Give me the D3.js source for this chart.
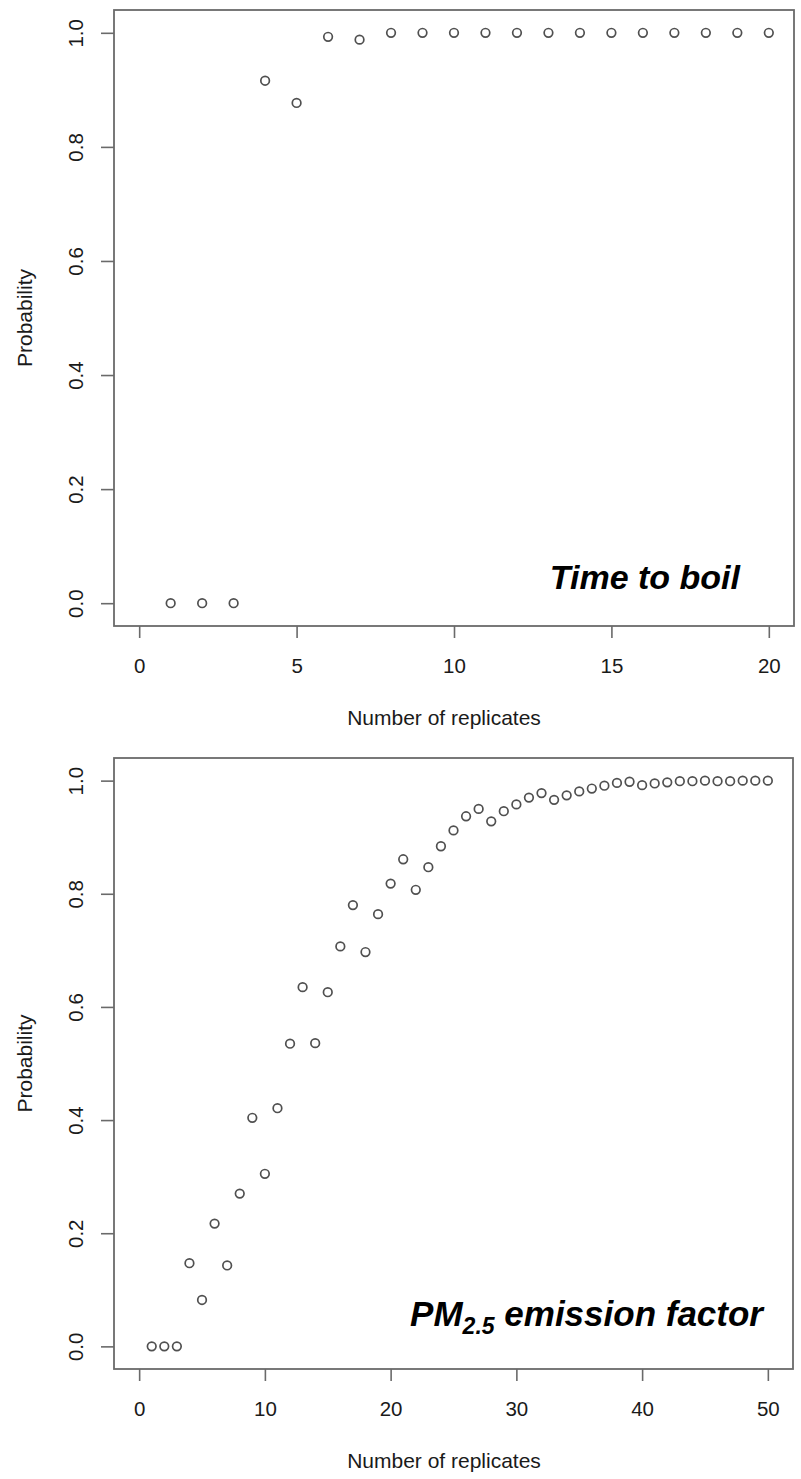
<!DOCTYPE html>
<html>
<head>
<meta charset="utf-8">
<script src="https://cdn.jsdelivr.net/npm/d3@7"></script>
<style>
  html, body { margin: 0; padding: 0; background: #fff; }
  svg { display: block; font-family: "Liberation Sans", Arial, sans-serif; }
</style>
</head>
<body>
<svg id="svg" width="801" height="1479"></svg>
<script>
// probability of reaching target precision vs number of replicates
const boilProb = [0, 0, 0, 0.916, 0.877, 0.993, 0.988, 1, 1, 1, 1, 1, 1, 1, 1, 1, 1, 1, 1, 1];
const pmProb = [0, 0, 0, 0.147, 0.082, 0.217, 0.143, 0.270, 0.404, 0.305,
  0.421, 0.535, 0.635, 0.536, 0.626, 0.707, 0.780, 0.697, 0.764, 0.818,
  0.861, 0.807, 0.847, 0.884, 0.912, 0.937, 0.950, 0.928, 0.946, 0.958,
  0.970, 0.978, 0.966, 0.974, 0.981, 0.986, 0.991, 0.996, 0.998, 0.992,
  0.995, 0.997, 0.999, 0.999, 1.0, 0.999, 0.999, 1.0, 1.0, 1.0];
const boilTicks = [0, 5, 10, 15, 20];
const pmTicks = [0, 10, 20, 30, 40, 50];
const probTicks = [0, 0.2, 0.4, 0.6, 0.8, 1.0];

const svg = d3.select('#svg');
const AX = '#6a6a6a', PT = '#505050';

function panel(o) {
  const { box, vals, xDom, xTicks } = o;
  const x = d3.scaleLinear().domain(xDom).range([box.x0, box.x1]);
  const y = d3.scaleLinear().domain([-0.04, 1.04]).range([box.y1, box.y0]);
  const g = svg.append('g');

  const gx = g.append('g').attr('transform', `translate(0,${box.y1})`)
    .call(d3.axisBottom(x).tickValues(xTicks).tickSize(12).tickFormat(d3.format('d')));
  gx.select('.domain').remove();
  gx.selectAll('line').attr('stroke', AX).attr('stroke-width', 1.6);
  gx.selectAll('text').attr('y', 47).attr('dy', 0).attr('fill', '#1a1a1a').attr('font-size', 20.5).attr('font-family', null);

  const gy = g.append('g').attr('transform', `translate(${box.x0},0)`)
    .call(d3.axisLeft(y).tickValues(probTicks).tickSize(13).tickFormat(d3.format('.1f')));
  gy.select('.domain').remove();
  gy.selectAll('line').attr('stroke', AX).attr('stroke-width', 1.6);
  gy.selectAll('text').attr('transform', 'rotate(-90)').attr('x', 0).attr('y', -31).attr('dy', 0)
    .attr('text-anchor', 'middle').attr('fill', '#1a1a1a').attr('font-size', 20.5).attr('font-family', null);

  g.append('rect').attr('x', box.x0).attr('y', box.y0).attr('width', box.x1 - box.x0).attr('height', box.y1 - box.y0)
    .attr('fill', 'none').attr('stroke', AX).attr('stroke-width', 1.8);

  g.append('g').selectAll('circle').data(vals).join('circle')
    .attr('cx', (d, i) => x(i + 1)).attr('cy', d => y(d)).attr('r', 4.3)
    .attr('fill', 'none').attr('stroke', PT).attr('stroke-width', 1.7);

  g.append('text').attr('x', 444).attr('y', box.y1 + 99).attr('text-anchor', 'middle')
    .attr('font-size', 21).attr('fill', '#1a1a1a').text('Number of replicates');
  g.append('text').attr('transform', `translate(32,${(box.y0 + box.y1) / 2}) rotate(-90)`).attr('text-anchor', 'middle')
    .attr('font-size', 21).attr('fill', '#1a1a1a').text('Probability');

  const t = g.append('text').attr('x', o.labelX).attr('y', o.labelY).attr('text-anchor', 'end')
    .attr('font-size', o.labelSize).attr('font-weight', 'bold').attr('font-style', 'italic').attr('fill', '#000');
  o.label(t);
}

panel({
  box: { x0: 114, x1: 794, y0: 10, y1: 626 }, vals: boilProb, xDom: [-0.8, 20.8], xTicks: boilTicks,
  labelX: 740, labelY: 589, labelSize: 34, label: t => t.text('Time to boil')
});
panel({
  box: { x0: 114, x1: 793, y0: 758, y1: 1369 }, vals: pmProb, xDom: [-2, 52], xTicks: pmTicks,
  labelX: 763, labelY: 1326, labelSize: 35,
  label: t => {
    t.append('tspan').text('PM');
    t.append('tspan').attr('dy', 8).attr('font-size', 23).text('2.5');
    t.append('tspan').attr('dy', -8).text(' emission factor');
  }
});
</script>
</body>
</html>
